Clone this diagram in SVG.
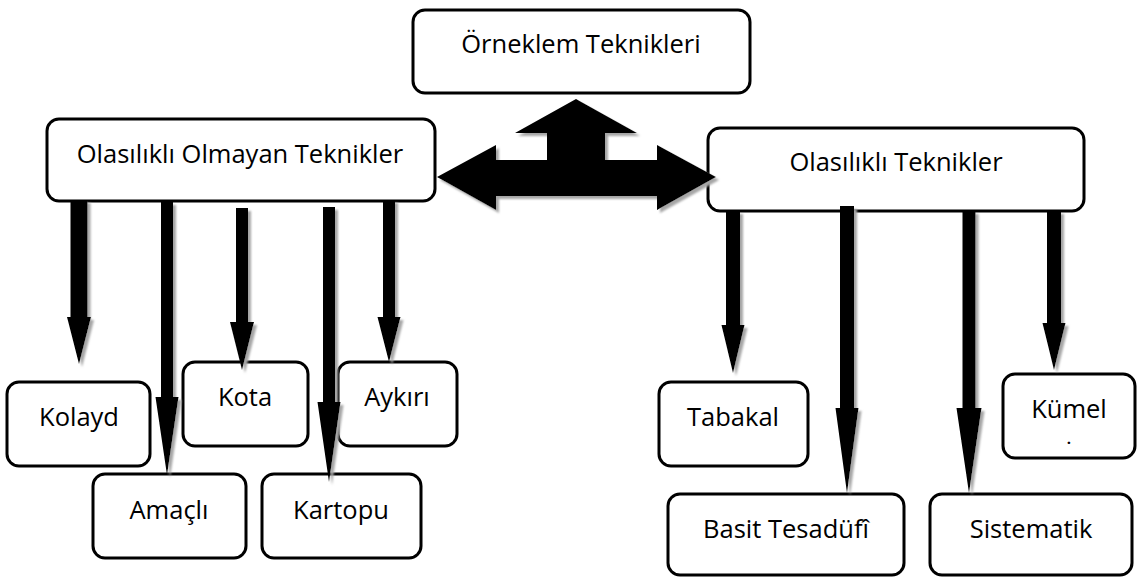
<svg xmlns="http://www.w3.org/2000/svg" width="1144" height="577" viewBox="0 0 1144 577">
<defs>
<filter id="sh" x="-20%" y="-20%" width="140%" height="140%">
<feDropShadow dx="3" dy="3" stdDeviation="1.2" flood-color="#a6a6a6" flood-opacity="1"/>
</filter>
</defs>
<style>
.box{fill:#fff;stroke:#000;stroke-width:3}
.t{font-family:"Open Sans","Noto Sans","Liberation Sans",sans-serif;font-size:25.5px;fill:#000;text-anchor:middle}
.dot{font-size:15px;font-weight:bold}
.arr{fill:#000;filter:url(#sh)}
</style>
<rect width="1144" height="577" fill="#fff"/>
<g id="n-root"><rect class="box" x="413" y="10" width="337" height="83" rx="12"/><text class="t" x="581" y="53">Örneklem Teknikleri</text></g>
<g id="n-nonprob"><rect class="box" x="47" y="119" width="388" height="82" rx="12"/><text class="t" x="240" y="163">Olasılıklı Olmayan Teknikler</text></g>
<g id="n-prob"><rect class="box" x="708" y="128" width="376" height="83" rx="12"/><text class="t" x="896" y="171">Olasılıklı Teknikler</text></g>
<g id="n-kolayd"><rect class="box" x="7" y="382" width="143" height="84" rx="12"/><text class="t" x="79" y="426">Kolayd</text></g>
<g id="n-kota"><rect class="box" x="183" y="362" width="125" height="84" rx="12"/><text class="t" x="245" y="406">Kota</text></g>
<g id="n-aykiri"><rect class="box" x="338" y="362" width="119" height="84" rx="12"/><text class="t" x="397" y="406">Aykırı</text></g>
<g id="n-amacli"><rect class="box" x="93" y="474" width="153" height="84" rx="12"/><text class="t" x="169" y="519">Amaçlı</text></g>
<g id="n-kartopu"><rect class="box" x="262" y="474" width="159" height="84" rx="12"/><text class="t" x="341" y="519">Kartopu</text></g>
<g id="n-tabakal"><rect class="box" x="659" y="382" width="149" height="84" rx="12"/><text class="t" x="733" y="426">Tabakal</text></g>
<g id="n-kumel"><rect class="box" x="1003" y="374" width="132" height="84" rx="12"/><text class="t" x="1069" y="418">Kümel</text><text class="t dot" x="1069" y="444">.</text></g>
<g id="n-basit"><rect class="box" x="668" y="494" width="236" height="81" rx="12"/><text class="t" x="786" y="538">Basit Tesadüfî</text></g>
<g id="n-sistematik"><rect class="box" x="930" y="494" width="202" height="81" rx="12"/><text class="t" x="1031" y="538">Sistematik</text></g>
<g id="connectors">
<polygon class="arr" points="576,99 637,133 605,133 605,160 657,160 657,145 716,177 657,210 657,196 496,196 496,210 437,177 496,145 496,160 547,160 547,133 515,133"/>
<polygon class="arr" points="70.5,200 87.5,200 87.5,317 91,317 79,364 67,317 70.5,317"/>
<polygon class="arr" points="161,202 173,202 173,397 178.5,397 167,475 155.5,397 161,397"/>
<polygon class="arr" points="236,208 248,208 248,322 254,322 242,370 230,322 236,322"/>
<polygon class="arr" points="323,207 335,207 335,402 340.5,402 329,482 317.5,402 323,402"/>
<polygon class="arr" points="383,200 395,200 395,317 400.5,317 389,362 377.5,317 383,317"/>
<polygon class="arr" points="726,211 740,211 740,325 744.5,325 733,373 721.5,325 726,325"/>
<polygon class="arr" points="840,206 854,206 854,408 858.5,408 847,493 835.5,408 840,408"/>
<polygon class="arr" points="962.5,211 975.5,211 975.5,408 981.5,408 969,493 956.5,408 962.5,408"/>
<polygon class="arr" points="1047,211 1061,211 1061,323 1065.5,323 1054,370 1042.5,323 1047,323"/>
</g>
</svg>
